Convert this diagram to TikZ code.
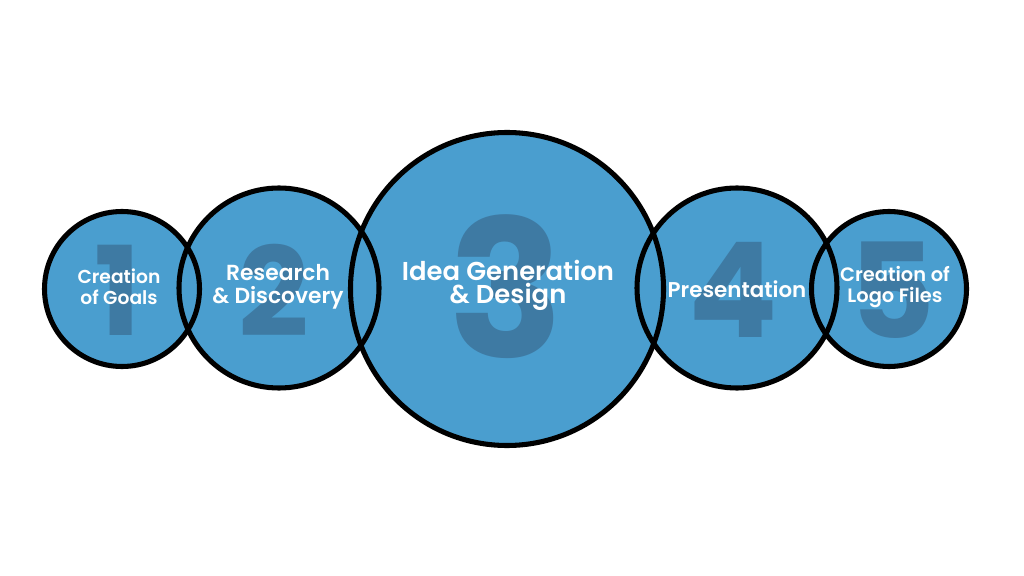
\documentclass[tikz,border=0pt]{standalone}
\usepackage{fontspec}
\setmainfont{Poppins}
\newfontfamily\stepsemi{Poppins SemiBold}
\definecolor{stepblue}{RGB}{74,158,207}
\definecolor{stepdigit}{RGB}{62,122,163}
\tikzset{
  stepfill/.style={circle, fill=stepblue, inner sep=0pt},
  stepring/.style={draw=black, line width=3.6pt},
  stepnum/.style={text=stepdigit, font=\bfseries\fontsize{#1}{#1}\selectfont, inner sep=0pt},
  steptext/.style 2 args={text=white, align=center, font=\stepsemi\fontsize{#1}{#2}\selectfont, inner sep=0pt}
}
\begin{document}
\begin{tikzpicture}[x=0.025cm, y=-0.025cm]
      \useasboundingbox (0,0) rectangle (1024,576);
      \draw
        (122,289) node[stepfill, minimum size=155*0.025cm] (c1){}
        (279,288) node[stepfill, minimum size=200*0.025cm] (c2){}
        (507,289) node[stepfill, minimum size=313*0.025cm] (c3){}
        (737,288) node[stepfill, minimum size=200*0.025cm] (c4){}
        (889,289) node[stepfill, minimum size=155*0.025cm] (c5){};
      \draw
        (118,290) node[stepnum=88] (n1){1}
        (274,290) node[stepnum=88] (n2){2}
        (506,287) node[stepnum=136] (n3){3}
        (733,290) node[stepnum=94] (n4){4}
        (892,290) node[stepnum=94] (n5){5};
      \begin{scope}[stepring]
        \draw (c1.center) circle (77.5);
        \draw (c2.center) circle (100);
        \draw (c3.center) circle (156.5);
        \draw (c4.center) circle (100);
        \draw (c5.center) circle (77.5);
      \end{scope}
      \draw
        (119,287) node[steptext={13.3}{15}] (t1){Creation\\of Goals}
        (278,286.5) node[steptext={15.5}{16.4}] (t2){Research\\\& Discovery}
        (508,285.5) node[steptext={18.4}{16.6}] (t3){Idea Generation\\\& Design}
        (737,289) node[steptext={15.2}{16}] (t4){Presentation}
        (895,287) node[steptext={13.8}{15}] (t5){Creation of\\Logo Files};
    \end{tikzpicture}
\end{document}
